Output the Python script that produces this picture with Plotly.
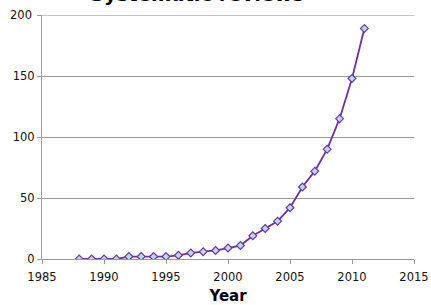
import plotly.graph_objects as go

years = [1988, 1989, 1990, 1991, 1992, 1993, 1994, 1995, 1996, 1997, 1998, 1999,
         2000, 2001, 2002, 2003, 2004, 2005, 2006, 2007, 2008, 2009, 2010, 2011]
reviews = [0, 0, 0, 0, 2, 2, 2, 2, 3, 5, 6, 7,
           9, 11, 19, 25, 31, 42, 59, 72, 90, 115, 148, 189]
x_ticks = [1985, 1990, 1995, 2000, 2005, 2010, 2015]
y_ticks = [0, 50, 100, 150]

fig = go.Figure()
fig.add_trace(go.Scatter(
    x=years, y=reviews, mode="lines+markers",
    line=dict(color="#7030A0", width=1.8),
    marker=dict(symbol="diamond", size=6, color="#B4DCEC",
                line=dict(color="#7030A0", width=1.2)),
    showlegend=False,
))

fig.update_layout(
    width=431, height=305,
    margin=dict(l=42, r=17, t=15, b=46, autoexpand=False),
    paper_bgcolor="white", plot_bgcolor="white",
    font=dict(family="DejaVu Sans", size=11.5, color="#111"),
    shapes=[dict(type="line", xref="paper", yref="y", x0=0, x1=1, y0=200, y1=200,
                 line=dict(color="#C4C4C4", width=2), layer="below")],
    annotations=[dict(
        text="<b>Systematic reviews</b>", xref="paper", yref="paper",
        x=0.417, y=1.0, yshift=7, xanchor="center", yanchor="bottom",
        showarrow=False, font=dict(size=19.5, color="#000"),
    ), dict(
        text="200", xref="paper", yref="y", x=0, y=200, xanchor="right",
        xshift=-8, yanchor="middle", showarrow=False,
        font=dict(size=11.5, color="#111"),
    )],
)
fig.update_xaxes(
    range=[1985, 2015], tickvals=x_ticks, showgrid=False, automargin=False,
    showline=True, linecolor="#999", linewidth=1,
    ticks="outside", ticklen=4, tickcolor="#999", ticklabelstandoff=3,
    title=dict(text="<b>Year</b>", font=dict(size=15, color="#000"), standoff=9),
    zeroline=False,
)
fig.update_yaxes(
    range=[0, 200], tickvals=y_ticks + [200], ticktext=["0", "50", "100", "150", ""],
    showgrid=True, gridcolor="#999", automargin=False,
    gridwidth=1, showline=True, linecolor="#999", linewidth=1,
    ticks="outside", ticklen=4, tickcolor="#999", zeroline=False,
)

fig.write_html("out.html", config={"displayModeBar": False},
               post_script="document.body.style.margin='0';")
